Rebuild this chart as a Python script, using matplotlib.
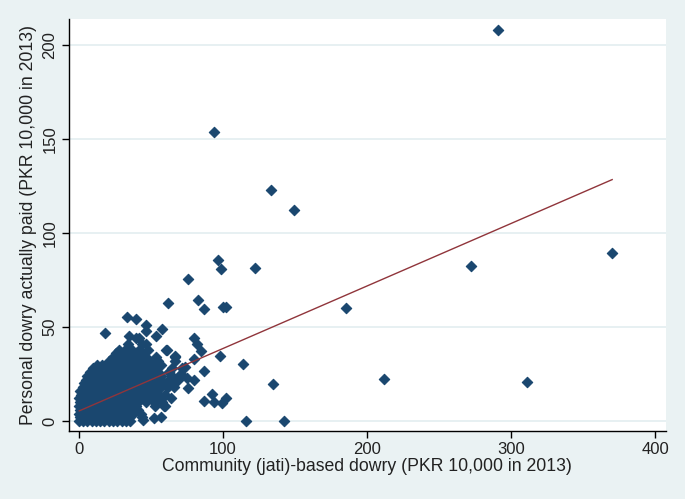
import numpy as np
import matplotlib
matplotlib.use("Agg")
import matplotlib.pyplot as plt

plt.rcParams['font.family'] = ['Liberation Sans', 'DejaVu Sans']

# dense cluster (y value -> x values)
band_y = [0, 2, 4, 6, 8, 10, 12, 14, 16, 18, 20, 22, 24, 26, 28, 30, 32, 34, 36, 38, 41, 44]
band_x = [
    [0, 3, 6, 9, 12, 15, 18, 21, 24, 27, 30, 33, 36],
    [1, 4, 7, 10, 13, 16, 19, 22, 25, 28, 31, 34, 44],
    [0, 2, 5, 8, 11, 14, 17, 20, 23, 26, 29, 32, 38, 43],
    [1, 4, 7, 10, 13, 16, 19, 22, 25, 28, 31, 34, 37, 41],
    [0, 3, 6, 9, 12, 15, 18, 21, 24, 27, 30, 33, 36, 40, 53, 59],
    [1, 4, 7, 10, 13, 16, 19, 22, 25, 28, 31, 34, 37, 41, 47, 52, 58],
    [0, 3, 6, 9, 12, 15, 18, 21, 24, 27, 30, 33, 36, 39, 44, 50, 55],
    [2, 5, 8, 11, 14, 17, 20, 23, 26, 29, 32, 35, 38, 42, 46, 51, 56, 60],
    [1, 4, 7, 10, 13, 16, 19, 22, 25, 28, 31, 34, 37, 40, 44, 49, 54],
    [3, 6, 9, 12, 15, 18, 21, 24, 27, 30, 33, 36, 39, 43, 47, 52, 57, 62],
    [4, 7, 10, 13, 16, 19, 22, 25, 28, 31, 34, 37, 40, 45, 50, 55, 59, 66],
    [5, 8, 11, 14, 17, 20, 23, 26, 29, 32, 35, 38, 42, 46, 51, 56, 63, 68],
    [6, 9, 12, 15, 18, 21, 24, 27, 30, 33, 36, 39, 43, 48, 53, 57, 65],
    [8, 11, 14, 17, 20, 23, 26, 29, 32, 35, 38, 41, 45, 50, 55, 63],
    [10, 13, 16, 19, 22, 25, 28, 31, 34, 37, 40, 44, 48, 53],
    [13, 16, 20, 24, 27, 30, 33, 36, 39, 42, 46, 51, 57],
    [21, 25, 28, 31, 34, 37, 40, 44, 49, 55],
    [24, 27, 30, 33, 36, 39, 43, 47, 54, 67],
    [26, 29, 32, 36, 40, 45],
    [28, 32, 37, 42, 48, 61],
    [34, 44, 47],
    [40, 42],
]

# scattered points outside the cluster
other_x = [18.7, 33.7, 40, 46.5, 47, 54, 34.7, 58, 62, 76, 83, 87, 100, 102,
           80, 82, 84.6, 61.5, 67, 67, 80, 74, 98.4, 113.7, 86.8, 75, 80, 76,
           62.6, 63, 59, 60, 60, 52, 45, 92.6, 87, 93.6, 102, 99.6, 115.8, 142.8,
           134.5, 93.6, 133.8, 149.7, 97, 99, 122.7, 271.8, 370, 185.8, 211.5,
           311.3, 291, 70, 72, 66, 64, 65, 69, 71, 57]
other_y = [47, 55.5, 54.5, 51, 48, 45.5, 45.5, 49, 63, 75.7, 64.5, 59.5, 60.5, 60.7,
           44, 41, 37.5, 38, 34.7, 32, 33, 29, 34.7, 30.4, 26.7, 23, 22, 17.8,
           22, 26, 19.7, 14, 8, 1.8, 0.5, 14.4, 10.7, 10, 12.4, 9.8, 0, 0,
           19.7, 153.6, 122.7, 112.5, 85.5, 81, 81.6, 82.7, 89.6, 60.3, 22.4,
           20.8, 208, 24, 28, 18, 12, 28, 22, 25, 2]

# fitted line
fit_x = [0.5, 370]
fit_y = [5.4, 128.5]

comm = []
pers = []
for yv, xs in zip(band_y, band_x):
    comm += xs
    pers += [yv] * len(xs)
comm += other_x
pers += other_y

bg = '#EAF2F3'
fig = plt.figure(figsize=(6.85, 4.99), dpi=100, facecolor=bg)
ax = fig.add_axes([0.1001, 0.1363, 0.8721, 0.8257])
ax.set_facecolor('white')

ax.scatter(comm, pers, marker='D', s=28, color='#1A476F',
           edgecolors='#1A476F', linewidths=0.8, zorder=3)
ax.plot(fit_x, fit_y, color='#90353B', lw=1.0, zorder=4)

ax.set_xlim(-6.9, 407.3)
ax.set_ylim(-5.3, 214)
ax.set_xticks([0, 100, 200, 300, 400])
ax.set_yticks([0, 50, 100, 150, 200])
ax.yaxis.grid(True, color='#E3EEF0', lw=1.2, zorder=0)
ax.set_axisbelow(True)

for s in ['top', 'right']:
    ax.spines[s].set_visible(False)
for s in ['left', 'bottom']:
    ax.spines[s].set_linewidth(1.0)
    ax.spines[s].set_color('black')

ax.tick_params(direction='out', length=5, width=1, labelsize=12, pad=3, labelcolor='#222222')
plt.setp(ax.get_yticklabels(), rotation=90, va='center')

ax.set_xlabel("Community (jati)-based dowry (PKR 10,000 in 2013)", fontsize=12.7, color='#222222', labelpad=1)
ax.set_ylabel("Personal dowry actually paid (PKR 10,000 in 2013)", fontsize=12.7, color='#222222', labelpad=4)

fig.savefig('out.png', dpi=100, facecolor=bg)
